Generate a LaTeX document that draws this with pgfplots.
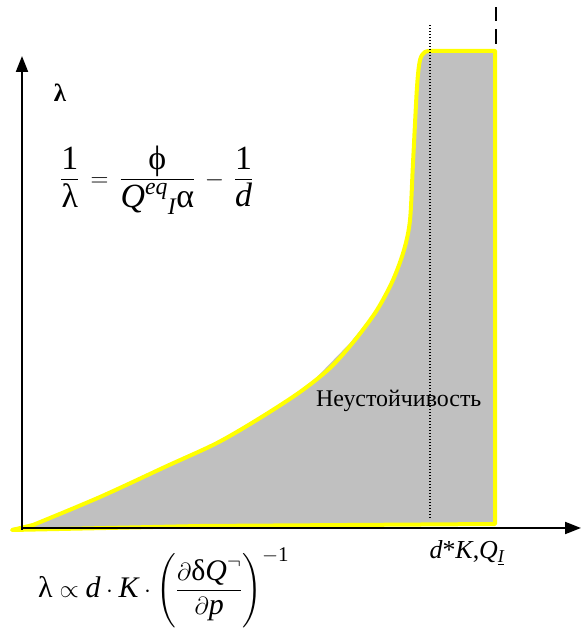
\documentclass[border=0pt]{standalone}
\usepackage{fontspec}
\setmainfont{Liberation Serif}
\usepackage{amsmath}
\usepackage{pgfplots}
\pgfplotsset{compat=1.18}
\usetikzlibrary{arrows.meta}
\definecolor{regiongray}{HTML}{C0C0C0}
\definecolor{edgeyellow}{HTML}{FFFF00}
\newcommand{\mi}[1]{\textit{#1}}
\newcommand{\gr}[1]{\text{#1}}
\begin{document}
\begin{tikzpicture}
\begin{axis}[
  scale only axis, width=586bp, height=632bp,
  xmin=0, xmax=586, ymin=0, ymax=632,
  hide axis, clip=false,
]
% frame of the drawing area (invisible)
\addplot[draw=none, forget plot] coordinates {(0,0) (586,632)};
% instability region
\addplot[fill=regiongray, draw=none] coordinates {
  (12,104) (33,107) (100,135) (167,167) (217,190) (260,215) (300,240)
  (317,255) (350,289) (377,322) (393,352) (405,382) (410,412) (413,469)
  (417,545) (420,572) (425,580) (495,581) (495,108) (12,102)
} -- cycle;
% boundary of the region
\addplot[edgeyellow, line width=4bp, line join=round, line cap=round, smooth, tension=0.5] coordinates {
  (33,107) (100,135) (167,166) (217,189) (260,214) (300,240)
  (330,264) (355,292) (377,322) (393,352) (404,382) (410,412) (413,469)
  (417,545) (420,572) (425,580) (432,581)
};
\addplot[edgeyellow, line width=4bp, line join=round, line cap=round] coordinates {
  (432,581) (495,581) (495,108) (200,106) (12,102) (33,107)
};
% axes
\addplot[black, line width=2bp, -{Triangle[length=16bp, width=12bp]}] coordinates {(22,102) (22,576)};
\addplot[black, line width=2bp, -{Triangle[length=16bp, width=12bp]}] coordinates {(22,104) (581,104)};
% reference lines
\addplot[black, line width=1.2bp, dash pattern=on 1.2bp off 1.8bp] coordinates {(430,114) (430,607)};
\addplot[black, line width=2bp, dash pattern=on 15bp off 8bp] coordinates {(496,588) (496,625)};
% labels
\node[anchor=center, font=\fontsize{25}{29}\selectfont\bfseries] at (axis cs:60,539) {λ};
\node[anchor=west, inner sep=0pt, font=\fontsize{34}{38}\selectfont] at (axis cs:60,452)
  {$\displaystyle \frac{\gr{1}}{\gr{λ}} \mkern3mu=\mkern3mu \frac{\;\gr{ϕ}\;}{\mi{Q}^{\mi{eq}}{}_{\mi{I}}\gr{α}} \mkern3mu-\mkern3mu \frac{\gr{1}}{\mi{d}}$};
\node[anchor=base west, inner sep=0pt, font=\fontsize{24}{28}\selectfont] at (axis cs:316,225) {Неустойчивость};
\node[anchor=center, inner sep=0pt, font=\fontsize{26}{30}\selectfont] at (axis cs:467,79)
  {\mi{d}*\mi{K},\mi{Q}$_{\underline{\mi{I}}}$};
\node[anchor=west, inner sep=0pt, font=\fontsize{30}{34}\selectfont] at (axis cs:38,44)
  {$\displaystyle \gr{λ} \propto \mi{d}\cdot \mi{K}\cdot \Biggl(\frac{\partial\gr{δ}\mi{Q}^{\neg}}{\partial \mi{p}}\Biggr)^{-\gr{1}}$};
\end{axis}
\end{tikzpicture}
\end{document}
